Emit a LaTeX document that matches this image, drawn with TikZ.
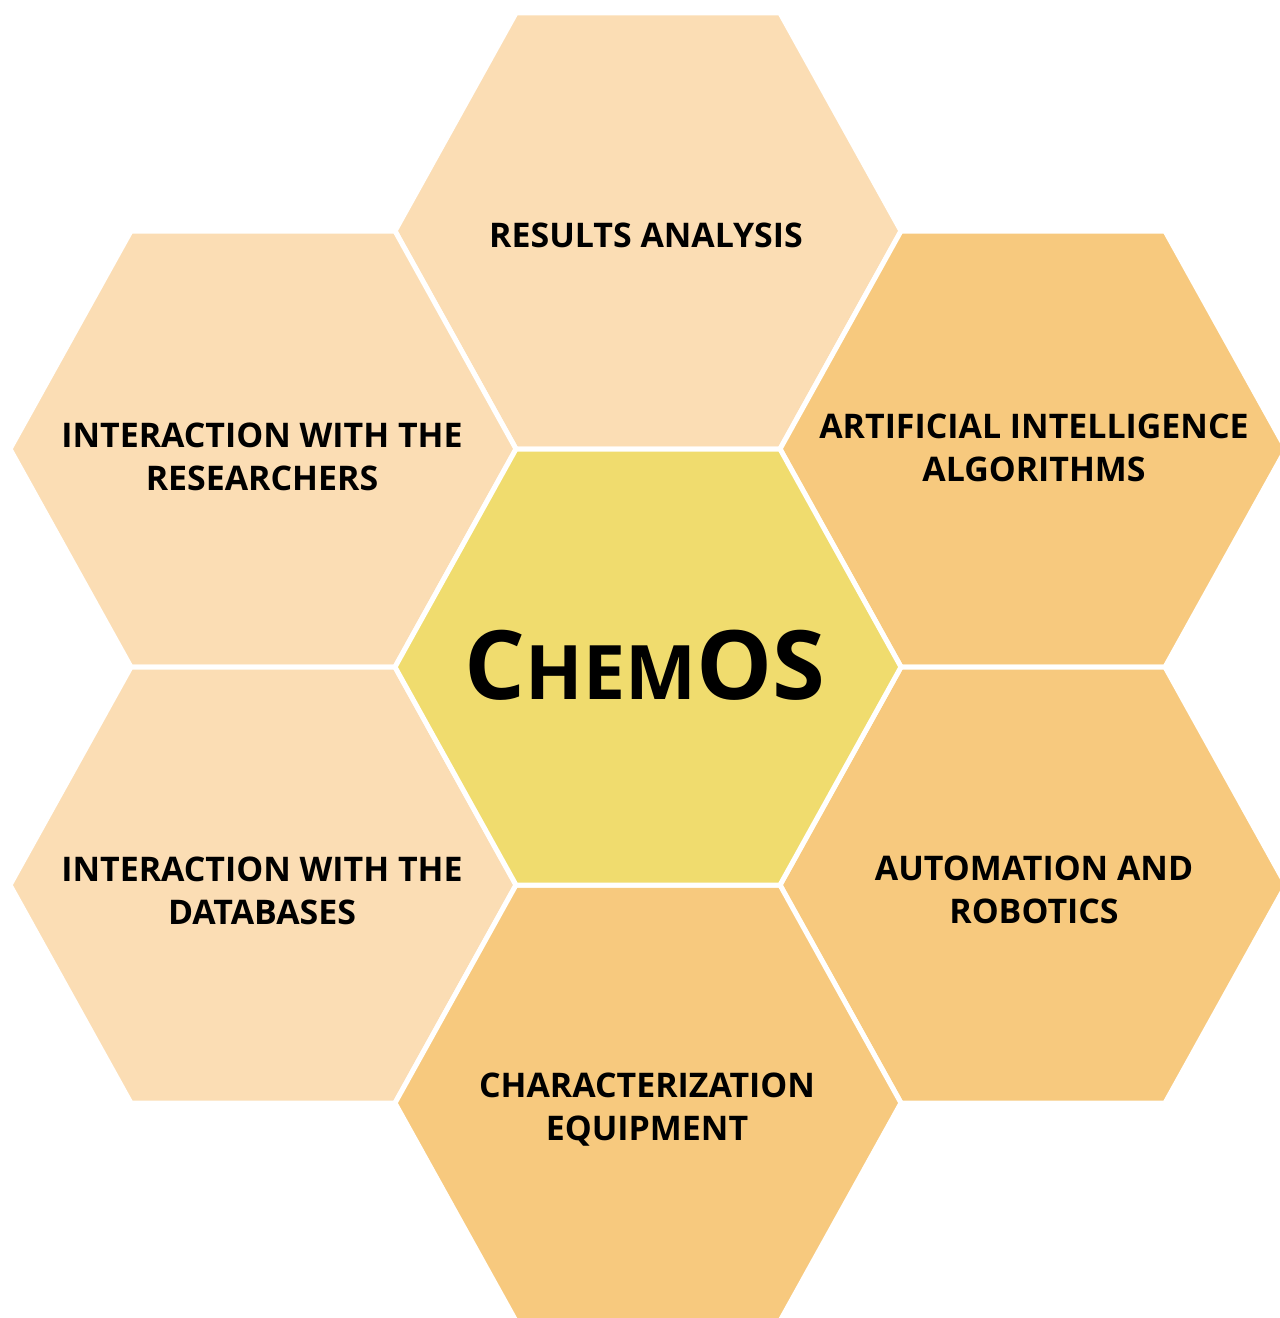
\documentclass[tikz,border=0pt]{standalone}
\usepackage{fontspec}
\setmainfont{Open Sans}
\definecolor{peach}{HTML}{FBDDB4}
\definecolor{amber}{HTML}{F7C97E}
\definecolor{core}{HTML}{F0DC6E}

\newcommand{\fullcap}[1]{{\fontsize{54.5}{60}\selectfont #1}}
\newcommand{\smallcap}[1]{{\fontsize{42.8}{50}\selectfont #1}}

\begin{document}
\begin{tikzpicture}
  [x=0.02cm, y=-0.02cm,
   hexcell/.style={fill=#1, draw=white, line width=0.1cm, line join=miter},
   caption/.style={font=\bfseries\fontsize{19.3}{24.4}\selectfont, align=center}]
  \useasboundingbox[clip] (0,0) rectangle (1280,1318);
  \foreach \x/\y/\col in {648/231/peach, 263/449/peach, 263/885/peach,
                          1033/449/amber, 1033/885/amber, 648/1103/amber,
                          648/667/core}
  \draw[hexcell=\col] (\x,\y) ++(-253,0) -- ++(121,-218) -- ++(264,0)
    -- ++(121,218) -- ++(-121,218) -- ++(-264,0) -- cycle;

  \node[caption] (results) at (646,235) {RESULTS ANALYSIS};
  \node[caption] (researchers) at (262,457) {INTERACTION WITH THE\\RESEARCHERS};
  \node[caption] (databases) at (262,891) {INTERACTION WITH THE\\DATABASES};
  \node[caption] (ai) at (1034,448) {ARTIFICIAL INTELLIGENCE\\ALGORITHMS};
  \node[caption] (robotics) at (1034,890) {AUTOMATION AND\\ROBOTICS};
  \node[caption] (equipment) at (647,1110) {CHARACTERIZATION\\EQUIPMENT};
  \node[font=\bfseries] (chemos) at (645,665)
    {\fullcap{C}\smallcap{HEM}\fullcap{OS}};
\end{tikzpicture}
\end{document}
